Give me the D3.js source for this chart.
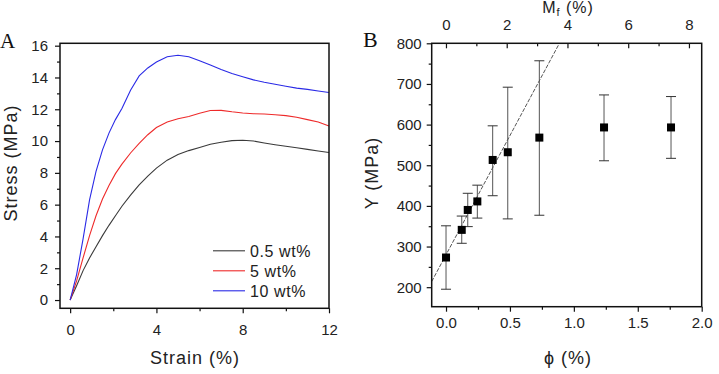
<!DOCTYPE html>
<html>
<head>
<meta charset="utf-8">
<script src="https://cdn.jsdelivr.net/npm/d3@7"></script>
<style>
  body { margin: 0; background: #fff; }
  svg { display: block; font-family: "Liberation Sans", Arial, sans-serif; }
  .tick text { fill: #222; }
</style>
</head>
<body>
<div id="container"></div>
<script>
// panel A: stress-strain curves
const strain = [0, 0.3, 0.6, 0.9, 1.2, 1.5, 1.8, 2.1, 2.4, 2.8, 3.2, 3.6, 4.0, 4.5, 5.0, 5.5,
                6.0, 6.5, 7.0, 7.5, 8.0, 8.5, 9.0, 9.5, 10.0, 10.5, 11.0, 11.5, 12.0];
const stress05 = [0, 0.9, 1.85, 2.65, 3.35, 4.05, 4.7, 5.3, 5.9, 6.6, 7.25, 7.8, 8.3, 8.8, 9.15, 9.4,
                  9.6, 9.8, 9.93, 10.03, 10.05, 10.0, 9.88, 9.77, 9.67, 9.58, 9.48, 9.38, 9.28];
const stress5 = [0, 1.2, 2.65, 4.05, 5.3, 6.35, 7.2, 7.95, 8.55, 9.25, 9.85, 10.4, 10.85, 11.2, 11.4, 11.55,
                 11.75, 11.92, 11.93, 11.84, 11.77, 11.72, 11.7, 11.66, 11.6, 11.5, 11.35, 11.2, 10.95];
const stress10 = [0, 1.6, 3.85, 6.3, 8.1, 9.45, 10.5, 11.35, 12.05, 13.2, 14.1, 14.6, 14.97, 15.3, 15.4, 15.3,
                  15.05, 14.78, 14.5, 14.25, 14.05, 13.85, 13.7, 13.57, 13.45, 13.33, 13.25, 13.15, 13.05];
const seriesNames = ["0.5 wt%", "5 wt%", "10 wt%"];
const seriesColors = ["#3a3a3a", "#ee2a2a", "#2a2ae6"];

// panel B: modulus vs volume fraction
const phi = [0, 0.123, 0.17, 0.245, 0.365, 0.483, 0.73, 1.236, 1.76];
const modulus = [273, 341, 390, 411, 513, 532, 568, 593, 593];
const errHigh = [351, 375, 431, 451, 597, 692, 757, 673, 669];
const errLow = [195, 308, 349, 370, 425, 368, 377, 511, 517];
const fitPhi = [-0.112, 0.887];
const fitY = [214, 800];

const w = 719, h = 374;
const svg = d3.select("#container").append("svg").attr("width", w).attr("height", h);

function addTicks(g, axisFn, scale, values, size, labels, padding) {
    const ax = axisFn(scale).tickValues(values).tickSizeInner(size).tickSizeOuter(0).tickPadding(padding || 3);
    if (!labels) ax.tickFormat("");
    const sel = g.append("g").call(ax);
    sel.select(".domain").remove();
    sel.selectAll(".tick line").attr("stroke", "#111").attr("stroke-width", 1.2);
    sel.selectAll(".tick text").attr("font-size", 15);
    return sel;
}

// ---------- panel A ----------
const xA = d3.scaleLinear().domain([-0.47, 12.0]).range([60, 329]);
const yA = d3.scaleLinear().domain([-0.52, 16.15]).range([308.3, 43.3]);
const gA = svg.append("g");

let bx = gA.append("g").attr("transform", "translate(0,308.3)");
addTicks(bx, d3.axisBottom, xA, [0, 4, 8, 12], 5, true, 11);
addTicks(bx, d3.axisBottom, xA, [2, 6, 10], 3, false);
let ly = gA.append("g").attr("transform", "translate(60,0)");
addTicks(ly, d3.axisLeft, yA, d3.range(0, 17, 2), 5, true, 7);
addTicks(ly, d3.axisLeft, yA, d3.range(1, 16, 2), 3, false);

const lineA = d3.line().x(d => xA(d[0])).y(d => yA(d[1]));
[stress05, stress5, stress10].forEach((vals, i) => {
    gA.append("path")
        .datum(strain.map((s, j) => [s, vals[j]]))
        .attr("d", lineA)
        .attr("fill", "none")
        .attr("stroke", seriesColors[i])
        .attr("stroke-width", 1.1);
});

gA.append("rect").attr("x", 60).attr("y", 43.3).attr("width", 269).attr("height", 265)
    .attr("fill", "none").attr("stroke", "#111").attr("stroke-width", 1.5);

const legY = [250.8, 270.8, 290.8];
seriesNames.forEach((name, i) => {
    gA.append("line").attr("x1", 213).attr("x2", 245).attr("y1", legY[i]).attr("y2", legY[i])
        .attr("stroke", seriesColors[i]).attr("stroke-width", 1.1);
    gA.append("text").attr("x", 250).attr("y", legY[i]).attr("dy", "0.36em")
        .attr("font-size", 16).attr("letter-spacing", 0.6).attr("fill", "#222").text(name);
});

gA.append("text").attr("transform", "translate(17,163) rotate(-90)")
    .attr("text-anchor", "middle").attr("font-size", 18).attr("letter-spacing", 1)
    .attr("fill", "#222").text("Stress (MPa)");
gA.append("text").attr("x", 195).attr("y", 364).attr("text-anchor", "middle")
    .attr("font-size", 18).attr("letter-spacing", 1).attr("fill", "#222").text("Strain (%)");
gA.append("text").attr("x", 0).attr("y", 48.3).attr("font-family", "'Liberation Serif', 'Times New Roman', serif")
    .attr("font-size", 21).attr("fill", "#111").text("A");

// ---------- panel B ----------
const xB = d3.scaleLinear().domain([-0.112, 2.0]).range([431.7, 701.7]);
const xM = d3.scaleLinear().domain([-0.47, 8.42]).range([431.7, 701.7]);
const yB = d3.scaleLinear().domain([152, 800]).range([306.7, 43.3]);
const gB = svg.append("g");

let bb = gB.append("g").attr("transform", "translate(0,306.7)");
addTicks(bb, d3.axisBottom, xB, [0, 0.5, 1, 1.5, 2], 5, true, 6).selectAll(".tick text")
    .text(d => d3.format(".1f")(d));
addTicks(bb, d3.axisBottom, xB, [0.25, 0.75, 1.25, 1.75], 3, false);
let tb = gB.append("g").attr("transform", "translate(0,43.3)");
addTicks(tb, d3.axisTop, xM, [0, 2, 4, 6, 8], -5, true, 13);
addTicks(tb, d3.axisTop, xM, [1, 3, 5, 7], -3, false);
let lb = gB.append("g").attr("transform", "translate(431.7,0)");
addTicks(lb, d3.axisLeft, yB, d3.range(200, 801, 100), 5, true, 5);
addTicks(lb, d3.axisLeft, yB, d3.range(250, 800, 100), 3, false);

gB.append("clipPath").attr("id", "clipB").append("rect")
    .attr("x", 431.7).attr("y", 43.3).attr("width", 270).attr("height", 263.4);
gB.append("path")
    .datum(fitPhi.map((p, i) => [p, fitY[i]]))
    .attr("clip-path", "url(#clipB)")
    .attr("d", d3.line().x(d => xB(d[0])).y(d => yB(d[1])))
    .attr("fill", "none").attr("stroke", "#555").attr("stroke-width", 1)
    .attr("stroke-dasharray", "4,1.5");

const pts = phi.map((p, i) => ({ p, y: modulus[i], hi: errHigh[i], lo: errLow[i] }));
const eb = gB.selectAll(".err").data(pts).enter().append("g").attr("class", "err");
eb.append("line").attr("x1", d => xB(d.p)).attr("x2", d => xB(d.p))
    .attr("y1", d => yB(d.hi)).attr("y2", d => yB(d.lo))
    .attr("stroke", "#555").attr("stroke-width", 1);
["hi", "lo"].forEach(k => {
    eb.append("line").attr("x1", d => xB(d.p) - 5).attr("x2", d => xB(d.p) + 5)
        .attr("y1", d => yB(d[k])).attr("y2", d => yB(d[k]))
        .attr("stroke", "#333").attr("stroke-width", 1);
});
gB.selectAll(".pt").data(pts).enter().append("rect").attr("class", "pt")
    .attr("x", d => xB(d.p) - 4).attr("y", d => yB(d.y) - 4)
    .attr("width", 8).attr("height", 8).attr("fill", "#000");

gB.append("rect").attr("x", 431.7).attr("y", 43.3).attr("width", 270).attr("height", 263.4)
    .attr("fill", "none").attr("stroke", "#111").attr("stroke-width", 1.5);

gB.append("text").attr("transform", "translate(378,173) rotate(-90)")
    .attr("text-anchor", "middle").attr("font-size", 18).attr("letter-spacing", 1)
    .attr("fill", "#222").text("Y (MPa)");
gB.append("text").attr("x", 568).attr("y", 364).attr("text-anchor", "middle")
    .attr("font-size", 18).attr("letter-spacing", 1).attr("fill", "#222").text("ϕ (%)");
// top title sits close to the edge as in the source figure, kept fully visible
const mf = gB.append("text").attr("x", 568).attr("y", 13).attr("text-anchor", "middle")
    .attr("font-size", 16).attr("letter-spacing", 1).attr("fill", "#222");
mf.append("tspan").text("M");
mf.append("tspan").attr("font-size", 11).attr("dy", 3).text("f");
mf.append("tspan").attr("dy", -3).text(" (%)");
gB.append("text").attr("x", 363).attr("y", 46.7).attr("font-family", "'Liberation Serif', 'Times New Roman', serif")
    .attr("font-size", 22).attr("fill", "#111").text("B");
</script>
</body>
</html>
